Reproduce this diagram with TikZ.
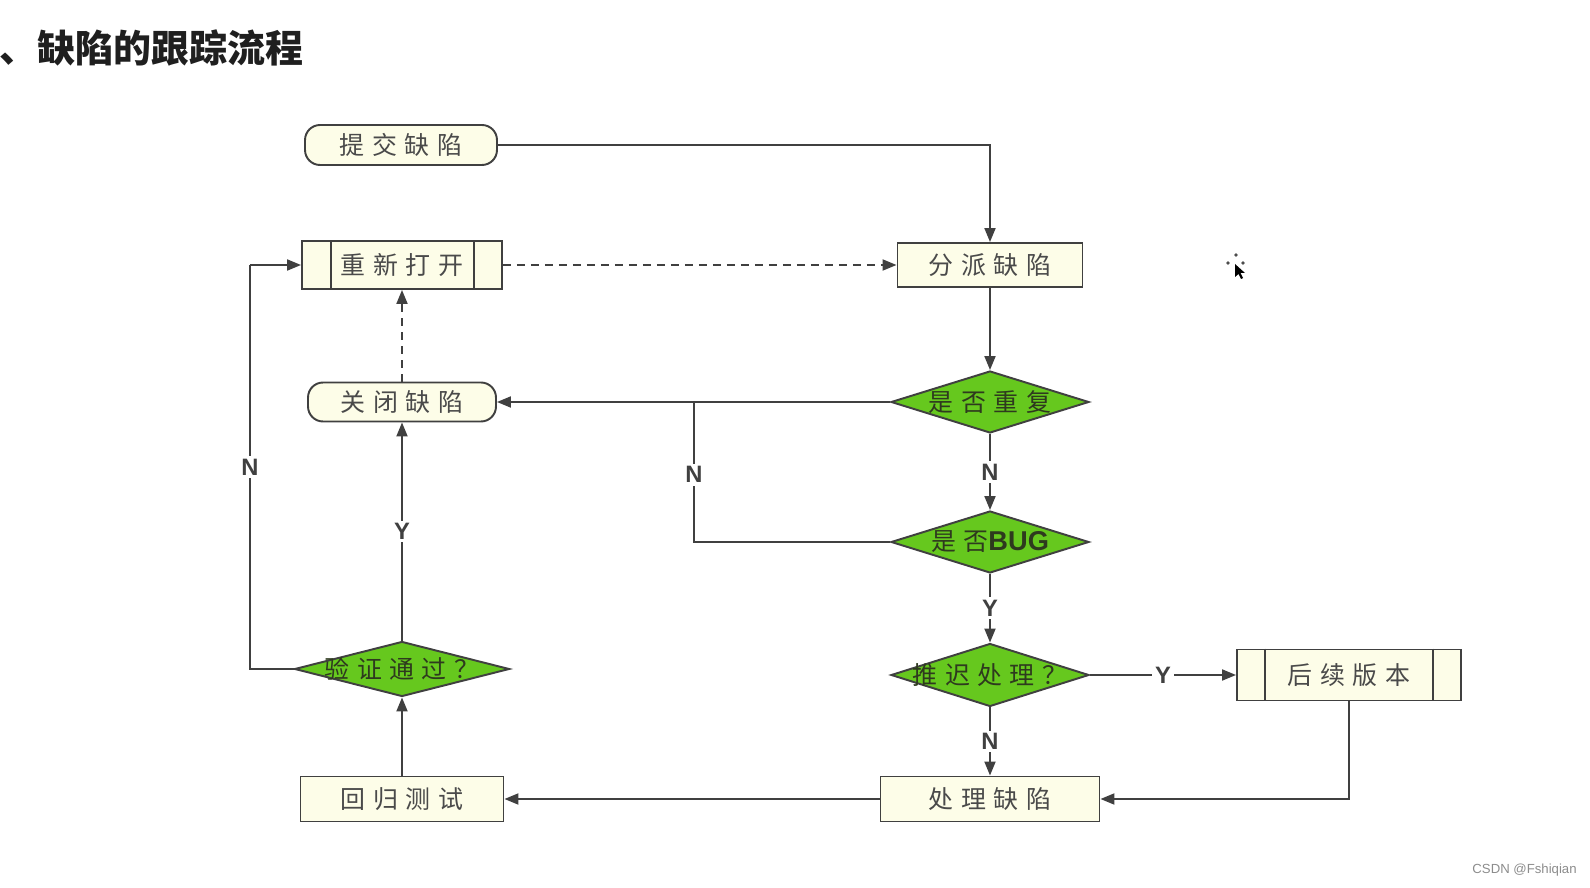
\documentclass[tikz,border=0pt]{standalone}
\usepackage{fontspec}
\setmainfont{Liberation Sans}
\newfontfamily\cjk{Noto Sans CJK SC}
\newfontfamily\cjksp[LetterSpace=30]{Noto Sans CJK SC}
\usetikzlibrary{shapes.geometric,arrows.meta,calc}
\definecolor{lc}{HTML}{404040}
\definecolor{cream}{HTML}{FDFDE8}
\definecolor{gr}{HTML}{66C81E}
\definecolor{txt}{HTML}{4A4A4A}
\definecolor{dtxt}{HTML}{2E3A1E}
\begin{document}
\begin{tikzpicture}[x=0.02cm,y=-0.02cm,
  line/.style={draw=lc, line width=1.1pt},
  arr/.style={line, -{Triangle[length=0.28cm,width=0.22cm]}},
  dsh/.style={dash pattern=on 0.16cm off 0.12cm},
  box/.style={draw=lc, line width=1.1pt, fill=cream, inner sep=0pt, text=txt,
    font=\cjksp\fontsize{14.2}{15}\selectfont},
  rbox/.style={box, rounded corners=0.3cm},
  dia/.style={diamond, draw=lc, line width=1.1pt, fill=gr, inner sep=0pt, aspect=3.2,
    text=dtxt, font=\cjksp\fontsize{14.2}{15}\selectfont},
  lbl/.style={fill=white, inner sep=1.5pt, text=lc, font=\bfseries\fontsize{13.5}{14}\selectfont}
]
\useasboundingbox (0,0) rectangle (1590,888);

% title
\node[anchor=west, inner sep=0pt, text=black!88, font=\cjk\bfseries\fontsize{21.6}{22}\selectfont] (title) at (-1,48) {、缺陷的跟踪流程};

% nodes
\node[rbox, minimum width=3.84cm, minimum height=0.8cm] (submit) at (401,145) {提交缺陷};
\node[box, minimum width=4.0cm, minimum height=0.96cm] (reopen) at (402,265) {重新打开};
\node[box, minimum width=3.7cm, minimum height=0.88cm] (assign) at (990,265) {分派缺陷};
\node[dia, minimum width=3.96cm, minimum height=1.24cm] (dup) at (990,402) {\makebox[0pt]{是否重复}};
\node[rbox, minimum width=3.76cm, minimum height=0.78cm] (closed) at (402,402) {关闭缺陷};
\node[dia, minimum width=3.96cm, minimum height=1.24cm] (bug) at (990,542) {\makebox[0pt]{是否{\fontspec{Liberation Sans}\bfseries\fontsize{15.5}{16}\selectfont BUG}}};
\node[dia, minimum width=3.96cm, minimum height=1.26cm] (delay) at (990,675) {\makebox[0pt]{推迟处理？}};
\node[box, minimum width=4.48cm, minimum height=1.02cm] (later) at (1349,675) {后续版本};
\node[dia, minimum width=4.3cm, minimum height=1.1cm] (verify) at (402,669) {\makebox[0pt]{验证通过？}};
\node[box, minimum width=4.06cm, minimum height=0.9cm] (regress) at (402,799) {回归测试};
\node[box, minimum width=4.38cm, minimum height=0.9cm] (handle) at (990,799) {处理缺陷};

% inner bars of process boxes
\draw[line] ([xshift=0.6cm]reopen.north west) -- ([xshift=0.6cm]reopen.south west);
\draw[line] ([xshift=-0.58cm]reopen.north east) -- ([xshift=-0.58cm]reopen.south east);
\draw[line] ([xshift=0.58cm]later.north west) -- ([xshift=0.58cm]later.south west);
\draw[line] ([xshift=-0.58cm]later.north east) -- ([xshift=-0.58cm]later.south east);

% connectors
\coordinate (j) at (694,402);
\coordinate (nl) at (250,265);
\draw[arr] (submit.east) -| (assign.north);
\draw[arr, dsh] (reopen.east) -- (assign.west);
\draw[arr] (assign.south) -- (dup.north);
\draw[arr] (dup.west) -- (closed.east);
\draw[arr] (dup.south) -- node[lbl]{N} (bug.north);
\draw[line] (bug.west) -| node[lbl, pos=0.74]{N} (j);
\draw[arr] (bug.south) -- node[lbl]{Y} (delay.north);
\draw[arr] (delay.east) -- node[lbl]{Y} (later.west);
\draw[arr] (delay.south) -- node[lbl]{N} (handle.north);
\draw[arr] (later.south) |- (handle.east);
\draw[arr] (handle.west) -- (regress.east);
\draw[arr] (regress.north) -- (verify.south);
\draw[arr] (verify.north) -- node[lbl]{Y} (closed.south);
\draw[line] (verify.west) -| node[lbl, pos=0.75]{N} (nl);
\draw[arr] (nl) -- (reopen.west);
\draw[arr, dsh] (closed.north) -- (reopen.south);

% cursor
\fill[black!70] (1236,255) circle (1.8);
\fill[black!70] (1228,263) circle (1.8);
\fill[black!70] (1243,263) circle (1.8);
\fill[black] (1235,264) -- (1235,277) -- (1238.5,274) -- (1241,279) -- (1243,278) -- (1240.5,273) -- (1245,273) -- cycle;

% watermark
\node[anchor=east, inner sep=0pt, text=black!45, font=\fontsize{7.5}{8}\selectfont] (wm) at (1577,870) {CSDN @Fshiqian};
\end{tikzpicture}
\end{document}
